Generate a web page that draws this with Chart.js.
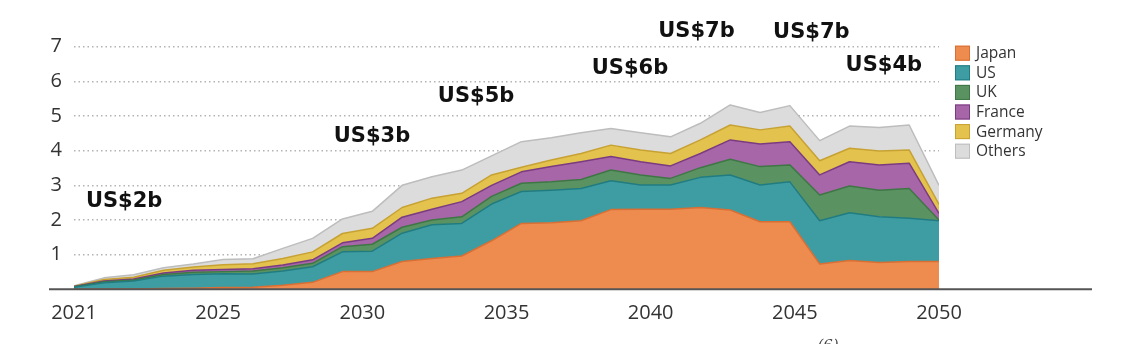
<!DOCTYPE html>
<html>
<head>
  <script src="https://cdn.jsdelivr.net/npm/chart.js"></script>
  <style>
    body { margin:0; background:#fff; }
    #wrap { width:1138px; height:344px; position:relative; }
  </style>
</head>
<body>
<div id="wrap"><canvas id="myChart"></canvas></div>
<script>
  // years of the data points
  var years = [2021,2022,2023,2024,2025,2026,2027,2028,2029,2030,
               2031,2032,2033,2034,2035,2036,2037,2038,2039,2040,
               2041,2042,2043,2044,2045,2046,2047,2048,2049,2050];

  // values (US$ billion), stacked bottom to top
  var japan   = [0.00,0.01,0.01,0.02,0.03,0.05,0.06,0.12,0.20,0.51,0.51,0.80,0.89,0.96,1.40,1.90,1.92,1.98,2.30,2.31,2.31,2.36,2.29,1.95,1.95,0.73,0.83,0.77,0.80,0.80];
  var us      = [0.06,0.18,0.23,0.36,0.40,0.40,0.38,0.41,0.45,0.57,0.59,0.82,0.97,0.94,1.06,0.92,0.94,0.93,0.83,0.70,0.70,0.87,1.01,1.06,1.15,1.25,1.38,1.32,1.25,1.18];
  var uk      = [0.01,0.03,0.03,0.05,0.06,0.06,0.09,0.09,0.10,0.15,0.20,0.17,0.14,0.19,0.22,0.24,0.24,0.26,0.31,0.29,0.19,0.28,0.45,0.53,0.49,0.74,0.77,0.77,0.86,0.02];
  var france  = [0.01,0.02,0.03,0.04,0.06,0.06,0.06,0.08,0.10,0.11,0.17,0.29,0.31,0.44,0.32,0.33,0.44,0.51,0.39,0.38,0.36,0.41,0.56,0.65,0.67,0.58,0.70,0.73,0.73,0.19];
  var germany = [0.01,0.04,0.05,0.08,0.09,0.14,0.15,0.19,0.23,0.27,0.29,0.28,0.32,0.24,0.30,0.13,0.19,0.24,0.33,0.34,0.36,0.39,0.43,0.41,0.45,0.41,0.39,0.40,0.38,0.26];
  var others  = [0.01,0.05,0.07,0.07,0.09,0.15,0.14,0.29,0.39,0.42,0.49,0.64,0.62,0.67,0.55,0.74,0.64,0.60,0.48,0.50,0.48,0.48,0.58,0.50,0.59,0.58,0.64,0.68,0.72,0.55];

  var seriesNames = ["Japan","US","UK","France","Germany","Others"];
  var seriesData  = [japan, us, uk, france, germany, others];
  var fillColors  = ["#EE8B4E","#3E9DA3","#5A9361","#A766A8","#E4C24E","#DCDCDC"];
  var lineColors  = ["#D86F35","#217C82","#3E7645","#7B3B81","#C7A233","#BDBDBD"];

  // axis tick labels as printed
  var xTickLabels = ["2021","2025","2030","2035","2040","2045","2050"];
  var yTickValues = [1,2,3,4,5,6,7];

  // bold callouts above the areas
  var callouts = [
    {text:"US$2b", year:2022.68, value:2.52},
    {text:"US$3b", year:2030.99, value:4.42},
    {text:"US$5b", year:2034.48, value:5.55},
    {text:"US$6b", year:2039.64, value:6.38},
    {text:"US$7b", year:2041.87, value:7.45},
    {text:"US$7b", year:2045.72, value:7.42},
    {text:"US$4b", year:2048.15, value:6.47},
  ];

  var TICK_FONT = "Open Sans";

  var dataSets = [];
  for (var s=0;s<seriesData.length;s++) {
    var pts = [];
    for (var i=0;i<years.length;i++) pts.push({x:years[i], y:seriesData[s][i]});
    dataSets.push({
      label: seriesNames[s],
      data: pts,
      xAxisID: 'x',
      backgroundColor: fillColors[s],
      borderColor: lineColors[s],
      borderWidth: 1.5,
      pointRadius: 0,
      tension: 0,
      fill: s == 0 ? 'origin' : '-1',
    });
  }

  // baseline, legend and callouts
  var extrasPlugin = {
    id: 'extras',
    afterDatasetsDraw: function(chart) {
      var ctx = chart.ctx;
      var area = chart.chartArea;
      var yScale = chart.scales.y;
      var xScale = chart.scales.x;
      ctx.save();
      // base line
      var y0 = yScale.getPixelForValue(0);
      ctx.strokeStyle = "#555";
      ctx.lineWidth = 2;
      ctx.beginPath();
      ctx.moveTo(area.left - 25, y0);
      ctx.lineTo(area.right + 153, y0);
      ctx.stroke();

      // legend
      ctx.font = "15.5px '" + TICK_FONT + "'";
      ctx.textBaseline = "middle";
      ctx.textAlign = "left";
      var ds = chart.data.datasets;
      for (var k=0;k<ds.length;k++) {
        var cy = area.top + 6.5 + k*19.6;
        var bx = area.right + 16;
        ctx.fillStyle = ds[k].backgroundColor;
        ctx.fillRect(bx, cy-7.5, 15, 15);
        ctx.strokeStyle = ds[k].borderColor;
        ctx.lineWidth = 1;
        ctx.strokeRect(bx+0.5, cy-7, 14, 14);
        ctx.fillStyle = "#333";
        ctx.fillText(ds[k].label, bx + 21, cy + 0.5);
      }

      // callouts
      ctx.font = "bold 21px 'DejaVu Sans'";
      ctx.textAlign = "center";
      ctx.fillStyle = "#111";
      for (var c=0;c<callouts.length;c++) {
        ctx.fillText(callouts[c].text, xScale.getPixelForValue(callouts[c].year), yScale.getPixelForValue(callouts[c].value));
      }

      // footnote marker cut off at the bottom edge
      ctx.font = "italic 15px 'DejaVu Serif'";
      ctx.fillStyle = "#444";
      ctx.fillText("(6)", 828, 346);
      ctx.restore();
    }
  };

  var chart = new Chart(document.getElementById('myChart'), {
    type: 'line',
    data: { datasets: dataSets },
    plugins: [extrasPlugin],
    options: {
      responsive: true,
      maintainAspectRatio: false,
      animation: false,
      layout: { padding: { left: 0, top: 46.7, right: 199, bottom: 0 } },
      plugins: { legend: { display: false }, tooltip: { enabled: false } },
      elements: { line: { borderJoinStyle: 'round' } },
      scales: {
        x: {
          type: 'linear',
          display: false,
          min: 2021,
          max: 2050,
        },
        xTicks: {
          type: 'linear',
          position: 'bottom',
          min: 2020,
          max: 2050,
          grid: { display: false },
          border: { display: false },
          afterFit: function(scale) { scale.height = 54.7; },
          ticks: {
            stepSize: 5,
            autoSkip: false,
            maxRotation: 0,
            padding: 4,
            color: "#333",
            font: { family: TICK_FONT, size: 20 },
            callback: function(value, index) { return xTickLabels[index]; }
          }
        },
        y: {
          stacked: true,
          min: 0,
          max: 7,
          afterFit: function(scale) { scale.width = 74; },
          afterBuildTicks: function(scale) {
            scale.ticks = [{value:0}].concat(yTickValues.map(function(v){ return {value:v}; }));
          },
          grid: {
            drawTicks: false,
            lineWidth: 1.5,
            color: function(c) { return c.tick && c.tick.value == 0 ? 'rgba(0,0,0,0)' : '#b3b3b3'; },
          },
          border: { display: false, dash: [1.5, 3] },
          ticks: {
            padding: 12,
            color: "#333",
            font: { family: TICK_FONT, size: 20 },
            callback: function(value) { return value == 0 ? "" : value; }
          }
        }
      }
    }
  });
</script>
</body>
</html>
